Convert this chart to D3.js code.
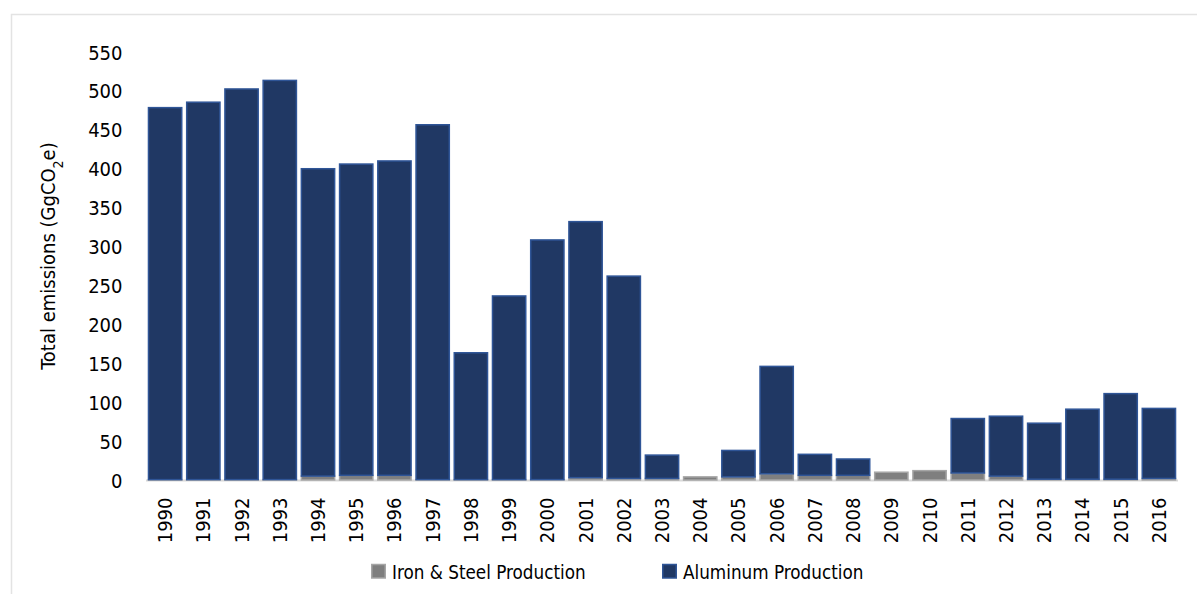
<!DOCTYPE html>
<html>
<head>
<meta charset="utf-8">
<script src="https://cdn.jsdelivr.net/npm/d3@7"></script>
<style>
  html, body { margin: 0; padding: 0; background: #fff; }
  svg { display: block; }
  text { font-family: "Liberation Sans Narrow", "DejaVu Sans Condensed", "Roboto", sans-serif; fill: #000; }
</style>
</head>
<body>
<svg id="chart" width="1197" height="594"></svg>
<script>
const years = ["1990","1991","1992","1993","1994","1995","1996","1997","1998","1999","2000","2001","2002","2003","2004","2005","2006","2007","2008","2009","2010","2011","2012","2013","2014","2015","2016"];
const ironSteel = [0.5,0.5,0.5,0.5,5,6,6,0.5,0.5,0.5,0.5,3,2,2,4,4,8,6,6,10,12,9,5,1,1,1,2];
const aluminum = [478,485,502,513,395,400,404,456,163,236,308,329,260,30,0,34,138,27,21,0,0,70,77,72,90,110,90];
const yTicks = [0,50,100,150,200,250,300,350,400,450,500,550];
const seriesNames = ["Iron & Steel Production", "Aluminum Production"];

const svg = d3.select("#chart");
const W = 1197, H = 594;
const FS = 20;

// outer frame (top & left)
svg.append("path")
  .attr("d", `M11.5,${H} L11.5,14.5 L${W},14.5`)
  .attr("fill", "none").attr("stroke", "#e3e3e3").attr("stroke-width", 1.5);

const x = d3.scaleBand().domain(years).range([146, 1178]).paddingInner(0.09).paddingOuter(0.045);
const y = d3.scaleLinear().domain([0, 550]).range([480, 52]);

const rows = years.map((yr, i) => ({ year: yr, iron: ironSteel[i], alu: aluminum[i] }));
const stack = d3.stack().keys(["iron", "alu"]);
const series = stack(rows);
const fills = ["#7f7f7f", "#203864"];
const strokes = ["#a6a6a6", "#2f5597"];

// baseline
svg.append("line")
  .attr("x1", 146).attr("x2", 1178)
  .attr("y1", y(0) + 0.5).attr("y2", y(0) + 0.5)
  .attr("stroke", "#d9d9d9").attr("stroke-width", 2);

series.forEach((s, k) => {
  svg.append("g").selectAll("rect").data(s).join("rect")
    .attr("x", d => x(d.data.year) + 0.75)
    .attr("width", x.bandwidth() - 1.5)
    .attr("y", d => y(d[1]))
    .attr("height", d => Math.max(0, y(d[0]) - y(d[1])))
    .attr("fill", fills[k])
    .attr("stroke", strokes[k])
    .attr("stroke-width", 1.5)
    .attr("display", d => (d[1] - d[0]) > 0 ? null : "none");
});

// y axis
const yAxis = d3.axisLeft(y).tickValues(yTicks).tickSize(0).tickPadding(0);
const gy = svg.append("g").attr("transform", "translate(122.5,0)").call(yAxis);
gy.select(".domain").remove();
gy.selectAll("text").style("font-size", FS + "px").attr("fill", "#000").attr("dy", "0.35em");

// x axis
const xAxis = d3.axisBottom(x).tickSize(0).tickPadding(0);
const gx = svg.append("g").attr("transform", `translate(0,${y(0)})`).call(xAxis);
gx.select(".domain").remove();
gx.selectAll("text")
  .style("font-size", FS + "px").attr("fill", "#000")
  .attr("text-anchor", "end")
  .attr("transform", "translate(0,17.5) rotate(-90)")
  .attr("x", 0).attr("y", 0).attr("dy", "0.35em");

// y title
const yt = svg.append("text")
  .attr("transform", "translate(48,256) rotate(-90)")
  .attr("text-anchor", "middle")
  .attr("dy", "0.35em")
  .style("font-size", FS + "px");
yt.append("tspan").text("Total emissions (GgCO");
yt.append("tspan").text("2").attr("baseline-shift", "sub").style("font-size", "14px");
yt.append("tspan").text("e)");

// legend
const legendX = [371, 662];
seriesNames.forEach((name, k) => {
  svg.append("rect")
    .attr("x", legendX[k] + 0.75).attr("y", 564.5)
    .attr("width", 13.5).attr("height", 13.5)
    .attr("fill", fills[k]).attr("stroke", strokes[k]).attr("stroke-width", 1.5);
  svg.append("text")
    .attr("transform", `translate(${legendX[k] + 21},571.5) scale(0.935,1)`)
    .attr("dy", "0.35em")
    .style("font-size", FS + "px")
    .text(name);
});
</script>
</body>
</html>
